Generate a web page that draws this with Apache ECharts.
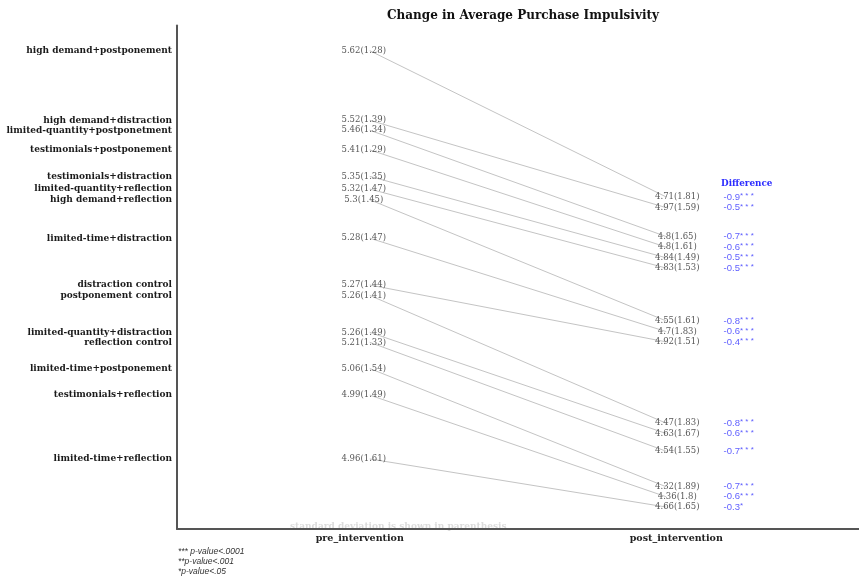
<!DOCTYPE html>
<html>
<head>
<meta charset="utf-8">
<title>Change in Average Purchase Impulsivity</title>
<script src="https://cdn.jsdelivr.net/npm/echarts@6/dist/echarts.min.js"></script>
<style>
  html, body { margin: 0; padding: 0; background: #ffffff; }
  #chart { width: 859px; height: 579px; }
</style>
</head>
<body>
<div id="chart"></div>
<script>
// Experimental conditions, ordered by pre-intervention mean
const groups = [
  'high demand+postponement',
  'high demand+distraction',
  'limited-quantity+postponetment',
  'testimonials+postponement',
  'testimonials+distraction',
  'limited-quantity+reflection',
  'high demand+reflection',
  'limited-time+distraction',
  'distraction control',
  'postponement control',
  'limited-quantity+distraction',
  'reflection control',
  'limited-time+postponement',
  'testimonials+reflection',
  'limited-time+reflection'
];

// Mean (SD) of purchase impulsivity before and after the intervention
const preMean  = [5.62, 5.52, 5.46, 5.41, 5.35, 5.32, 5.3, 5.28, 5.27, 5.26, 5.26, 5.21, 5.06, 4.99, 4.96];
const preSd    = [1.28, 1.39, 1.34, 1.29, 1.35, 1.47, 1.45, 1.47, 1.44, 1.41, 1.49, 1.33, 1.54, 1.49, 1.61];
const postMean = [4.71, 4.97, 4.8, 4.8, 4.84, 4.83, 4.55, 4.7, 4.92, 4.47, 4.63, 4.54, 4.32, 4.36, 4.66];
const postSd   = [1.81, 1.59, 1.65, 1.61, 1.49, 1.53, 1.61, 1.83, 1.51, 1.83, 1.67, 1.55, 1.89, 1.8, 1.65];

// Change (post - pre) and its significance stars
const diffValue = [-0.9, -0.5, -0.7, -0.6, -0.5, -0.5, -0.8, -0.6, -0.4, -0.8, -0.6, -0.7, -0.7, -0.6, -0.3];
const diffStars = ['***', '***', '***', '***', '***', '***', '***', '***', '***', '***', '***', '***', '***', '***', '*'];

// Time points on the horizontal axis
const phases = ['pre_intervention', 'post_intervention'];

// Footnotes
const notes = ['*** p-value<.0001', '**p-value<.001', '*p-value<.05'];

// Vertical row slots of each label (layout only, not data)
const preRow  = [2.50, 9.41, 10.40, 12.35, 14.98, 16.24, 17.30, 21.12, 25.77, 26.80, 30.47, 31.46, 34.06, 36.70, 43.04];
const postRow = [17.03, 18.09, 20.96, 22.01, 23.07, 24.09, 29.34, 30.40, 31.42, 39.50, 40.52, 42.28, 45.81, 46.80, 47.82];

const PRE_X = 1, POST_X = 2, DIFF_X = 2.19;

const chart = echarts.init(document.getElementById('chart'), null, { renderer: 'canvas' });

const slopeSeries = groups.map((g, i) => ({
  name: g,
  type: 'line',
  data: [[PRE_X, preRow[i]], [POST_X, postRow[i]]],
  showSymbol: false,
  silent: true,
  lineStyle: { color: '#c4c4c4', width: 1 },
  z: 1
}));

const valueFont = {
  fontFamily: 'DejaVu Serif',
  fontSize: 8.5,
  color: '#2c2c2c'
};

const option = {
  animation: false,
  backgroundColor: '#ffffff',
  title: [
    {
      text: 'Change in Average Purchase Impulsivity',
      left: 382,
      top: 5,
      textStyle: { fontFamily: 'DejaVu Serif', fontWeight: 'bold', fontSize: 12, color: '#111111' }
    },
    {
      text: 'Difference',
      left: 716,
      top: 174,
      textStyle: { fontFamily: 'DejaVu Serif', fontWeight: 'bold', fontSize: 8.8, color: '#2b2bff' }
    }
  ],
  grid: {
    left: 177, right: 0, top: 25.5, bottom: 50,
    containLabel: false,
    outerBoundsMode: 'none'
  },
  xAxis: {
    type: 'value',
    position: 'bottom',
    min: 0.35,
    max: 2.65,
    axisLine: { show: true, onZero: false, lineStyle: { color: '#555555', width: 2 } },
    axisTick: { show: false },
    splitLine: { show: false },
    axisLabel: {
      customValues: [PRE_X, POST_X],
      margin: 5,
      formatter: v => (Math.abs(v - PRE_X) < 0.01 ? '{pre|' + phases[0] + '}' : '{post|' + phases[1] + '}'),
      rich: {
        pre:  { fontFamily: 'DejaVu Serif', fontWeight: 'bold', fontSize: 9.5, color: '#222', padding: [0, 20, 0, 0] },
        post: { fontFamily: 'DejaVu Serif', fontWeight: 'bold', fontSize: 9.5, color: '#222', padding: [0, 0, 0, 20] }
      }
    }
  },
  yAxis: {
    type: 'value',
    inverse: true,
    min: 0,
    max: 50,
    axisLine: { show: true, onZero: false, lineStyle: { color: '#555555', width: 2 } },
    axisTick: { show: false },
    splitLine: { show: false },
    axisLabel: {
      customValues: preRow,
      margin: 5,
      fontFamily: 'DejaVu Serif',
      fontWeight: 'bold',
      fontSize: 9,
      color: '#1a1a1a',
      formatter: v => {
        let best = 0;
        preRow.forEach((r, i) => { if (Math.abs(r - v) < Math.abs(preRow[best] - v)) best = i; });
        return groups[best];
      }
    }
  },
  series: slopeSeries.concat([
    {
      name: 'pre',
      type: 'scatter',
      symbolSize: 0,
      silent: true,
      z: 3,
      data: groups.map((g, i) => [PRE_X, preRow[i], preMean[i], preSd[i]]),
      label: {
        show: true,
        position: 'inside',
        offset: [-6, 0],
        formatter: p => p.data[2] + '(' + p.data[3] + ')',
        ...valueFont
      }
    },
    {
      name: 'post',
      type: 'scatter',
      symbolSize: 0,
      silent: true,
      z: 3,
      data: groups.map((g, i) => [POST_X, postRow[i], postMean[i], postSd[i]]),
      label: {
        show: true,
        position: 'inside',
        offset: [11, 0],
        formatter: p => p.data[2] + '(' + p.data[3] + ')',
        ...valueFont
      }
    },
    {
      name: 'difference',
      type: 'scatter',
      symbolSize: 0,
      silent: true,
      z: 3,
      data: groups.map((g, i) => [DIFF_X, postRow[i], diffValue[i], diffStars[i]]),
      label: {
        show: true,
        position: 'inside',
        align: 'left',
        offset: [1, 0],
        formatter: p => '{v|' + p.data[2] + '}{s|' + p.data[3].split('').join(' ') + '}',
        rich: {
          v: { fontFamily: 'Liberation Sans', fontSize: 9.5, color: '#3535ff' },
          s: { fontFamily: 'Liberation Sans', fontSize: 8, color: '#3535ff', padding: [0, 0, 2, 0] }
        }
      }
    }
  ]),
  graphic: [
    {
      type: 'text',
      left: 290,
      top: 522,
      z: -1,
      style: {
        text: 'standard deviation is shown in parenthesis',
        fontFamily: 'DejaVu Serif',
        fontWeight: 'bold',
        fontSize: 9,
        fill: '#dcdcdc'
      }
    }
  ].concat(notes.map((t, i) => ({
    type: 'text',
    left: 178,
    top: 547 + i * 10,
    style: {
      text: t,
      fontFamily: 'Liberation Sans',
      fontStyle: 'italic',
      fontSize: 8.5,
      fill: '#333333'
    }
  })))
};

chart.setOption(option);
</script>
</body>
</html>
